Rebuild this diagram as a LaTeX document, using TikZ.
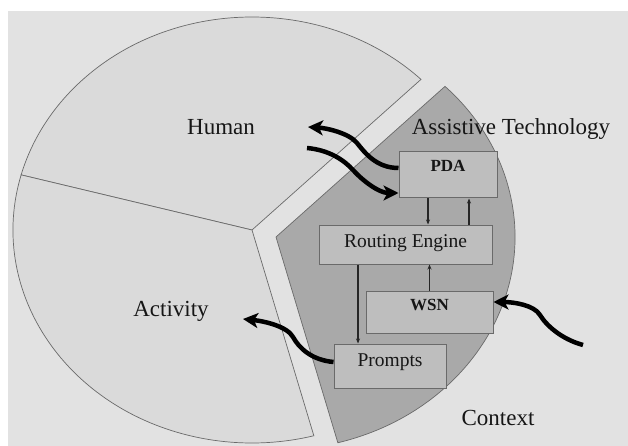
\documentclass[tikz,border=0pt]{standalone}
\usepackage{fontspec}
\setmainfont{Liberation Serif}
\usetikzlibrary{arrows.meta}
\definecolor{bggray}{HTML}{E2E2E2}
\definecolor{slicegray}{HTML}{DADADA}
\definecolor{techgray}{HTML}{A9A9A9}
\definecolor{boxgray}{HTML}{BEBEBE}
\definecolor{edgegray}{HTML}{6A6A6A}
\definecolor{inkgray}{HTML}{161616}

\begin{document}
\begin{tikzpicture}[x=1pt,y=1pt,
  slice/.style={draw=edgegray, line width=0.7pt},
  lightslice/.style={slice, fill=slicegray},
  techslice/.style={slice, fill=techgray},
  region/.style={font=\fontsize{23}{26}\selectfont, text=inkgray, inner sep=0pt, anchor=base},
  block/.style={draw=edgegray, fill=boxgray, line width=1pt, inner sep=0pt, text=inkgray},
  flow/.style={-{Stealth[length=15pt,width=15pt,inset=4pt]}, line width=4.5pt, black},
  link/.style={-{Stealth[length=5pt,width=4pt]}, line width=1.1pt, black!85},
]
\useasboundingbox (0,0) rectangle (628,-446);
\fill[bggray] (8,-11) rectangle (628,-446);

% three-slice pie, the technology slice pulled out
\coordinate (hub) at (252,-230);
\coordinate (techhub) at (276,-237);
\draw[lightslice] (hub) -- ++(45:239 and 213)
  arc[start angle=45, end angle=165, x radius=239, y radius=213] -- cycle;
\draw[lightslice] (hub) -- ++(165:239 and 213)
  arc[start angle=165, end angle=285, x radius=239, y radius=213] -- cycle;
\draw[techslice] (techhub) -- ++(-75:239 and 213)
  arc[start angle=-75, end angle=45, x radius=239, y radius=213] -- cycle;

% slice titles
\node[region] (human) at (221,-135) {Human};
\node[region] (activity) at (171,-316) {Activity};
\node[region] (tech) at (511,-135) {Assistive Technology};
\node[region] (context) at (498,-425) {Context};

% components of the technology slice
\node[block, minimum width=98pt, text height=20pt, text depth=26pt,
      font=\bfseries\fontsize{17}{20}\selectfont] (pda) at (448,-175) {PDA};
\node[block, minimum width=173pt, text height=22pt, text depth=17pt,
      font=\fontsize{19.5}{22}\selectfont] (re) at (405.5,-244.5) {Routing Engine};
\node[block, minimum width=127pt, text height=19pt, text depth=23pt,
      font=\bfseries\fontsize{17}{20}\selectfont] (wsn) at (429.5,-312) {WSN};
\node[block, minimum width=112pt, text height=22pt, text depth=22pt,
      font=\fontsize{19.5}{22}\selectfont] (prompts) at (390,-366) {Prompts};

% internal links
\draw[link] ([xshift=-20pt]pda.south) -- ([xshift=-20pt]pda.south |- re.north);
\draw[link] ([xshift=21pt]pda.south |- re.north) -- ([xshift=21pt]pda.south);
\draw[link] (wsn.north) -- (wsn.north |- re.south);
\draw[link] ([xshift=-32pt]prompts.north |- re.south) -- ([xshift=-32pt]prompts.north);

% interactions with the other slices
\coordinate (humanin) at (308,-127);
\coordinate (m1) at (357,-143);
\coordinate (humanout) at (307,-148);
\coordinate (m2) at (353,-170);
\coordinate (ctxout) at (583,-345);
\coordinate (m3) at (540,-315);
\coordinate (m4) at (293,-337);
\coordinate (actin) at (243,-319);

\draw[flow] ([yshift=7pt]pda.west) .. controls +(-22,0) and +(8,-10) .. (m1)
  .. controls +(-8,10) and +(18,-1) .. (humanin);
\draw[flow] (humanout) .. controls +(22,-2) and +(-9,10) .. (m2)
  .. controls +(9,-10) and +(-20,0) .. ([yshift=-18pt]pda.west);
\draw[flow] (ctxout) .. controls +(-22,6) and +(6,-10) .. (m3)
  .. controls +(-6,10) and +(20,0) .. ([yshift=10pt]wsn.east);
\draw[flow] ([yshift=4pt]prompts.west) .. controls +(-22,2) and +(6,-11) .. (m4)
  .. controls +(-6,11) and +(20,-2) .. (actin);
\end{tikzpicture}
\end{document}
